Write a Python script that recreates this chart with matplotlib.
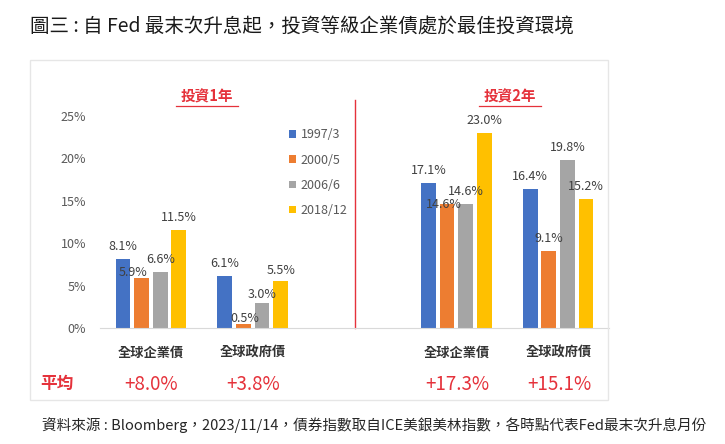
import numpy as np
import matplotlib.pyplot as plt
from matplotlib.patches import Rectangle
from matplotlib.lines import Line2D

plt.rcParams['font.family'] = ['Noto Sans CJK TC', 'DejaVu Sans']

# data
periods = ['1997/3', '2000/5', '2006/6', '2018/12']
categories = ['全球企業債', '全球政府債', '全球企業債', '全球政府債']
group_pos = [0, 1, 3, 4]
returns = {
    '1997/3': [8.1, 6.1, 17.1, 16.4],
    '2000/5': [5.9, 0.5, 14.6, 9.1],
    '2006/6': [6.6, 3.0, 14.6, 19.8],
    '2018/12': [11.5, 5.5, 23.0, 15.2],
}
averages = ['+8.0%', '+3.8%', '+17.3%', '+15.1%']
horizons = ['投資1年', '投資2年']
yticks = [0, 5, 10, 15, 20, 25]

colors = ['#4472C4', '#ED7D31', '#A5A5A5', '#FFC000']
red = '#E5323B'
# label nudges (dx, dy in points) where the labels were pushed around
nudge = {(1, 0): (-6, -5), (1, 1): (1, -5), (2, 1): (0, -3), (3, 1): (0, -1), (1, 2): (-2, -9)}

W, H = 725, 444
fig = plt.figure(figsize=(W / 100, H / 100), dpi=100)

# frame around the chart
fig.patches.append(Rectangle((30 / W, 1 - 400 / H), 578 / W, 340 / H, transform=fig.transFigure,
                             fill=False, edgecolor='#E6E6E6', linewidth=1))

ax = fig.add_axes([100 / W, 1 - 328 / H, 509 / W, 212 / H])
x = np.array(group_pos, dtype=float)
bw = 0.145
step = 0.183
for i, p in enumerate(periods):
    xs = x + (i - 1.5) * step
    ax.bar(xs, returns[p], width=bw, color=colors[i], label=p, zorder=2)
    for j, v in enumerate(returns[p]):
        dx, dy = nudge.get((i, j), (0, 0))
        ax.annotate(f'{v:.1f}%', (xs[j], v), xytext=(dx, 9 + dy), textcoords='offset points',
                    ha='center', va='center', fontsize=9, color='#404040')

ax.set_xlim(-0.5, 4.5)
ax.set_ylim(0, 25)
ax.set_yticks(yticks)
ax.set_yticklabels([f'{t}%' for t in yticks], fontsize=9, color='#595959')
ax.set_xticks([])
for s in ['top', 'right', 'left']:
    ax.spines[s].set_visible(False)
ax.spines['bottom'].set_color('#D9D9D9')
ax.tick_params(axis='y', length=0, pad=10)

# divider between the two horizons
ax.plot([2, 2], [0, 26.9], color=red, linewidth=1, clip_on=False, zorder=1)

leg = ax.legend(loc='upper left', bbox_to_anchor=(0.35, 0.995), frameon=False, fontsize=9,
                handlelength=0.55, handleheight=0.55, handletextpad=0.35, labelspacing=0.98)
for t in leg.get_texts():
    t.set_color('#595959')

# category names and averages
for j, c in enumerate(categories):
    xf = (100 + (group_pos[j] + 0.5) * 102) / W
    fig.text(xf, 1 - 353 / H, c, ha='center', va='center', fontsize=9.5, fontweight='bold', color='#333333')
    fig.text(xf, 1 - 384 / H, averages[j], ha='center', va='center', fontsize=13.5, color=red)
fig.text(40 / W, 1 - 384 / H, '平均', ha='left', va='center', fontsize=12, fontweight='bold', color=red)

# horizon headings, underlined
for k, h in enumerate(horizons):
    xc = [207, 510][k]
    fig.text(xc / W, 1 - 96 / H, h, ha='center', va='center', fontsize=10.5, fontweight='bold', color=red)
    fig.add_artist(Line2D([(xc - 31) / W, (xc + 31) / W], [1 - 106 / H] * 2, color=red, linewidth=0.9))

fig.text(30 / W, 1 - 26 / H, '圖三 : 自 Fed 最末次升息起，投資等級企業債處於最佳投資環境',
         ha='left', va='center', fontsize=14, color='#1A1A1A')
fig.text(42 / W, 1 - 425 / H, '資料來源 : Bloomberg，2023/11/14，債券指數取自ICE美銀美林指數，各時點代表Fed最末次升息月份',
         ha='left', va='center', fontsize=10.5, color='#262626')

fig.savefig('out.png', dpi=100, facecolor='white')
